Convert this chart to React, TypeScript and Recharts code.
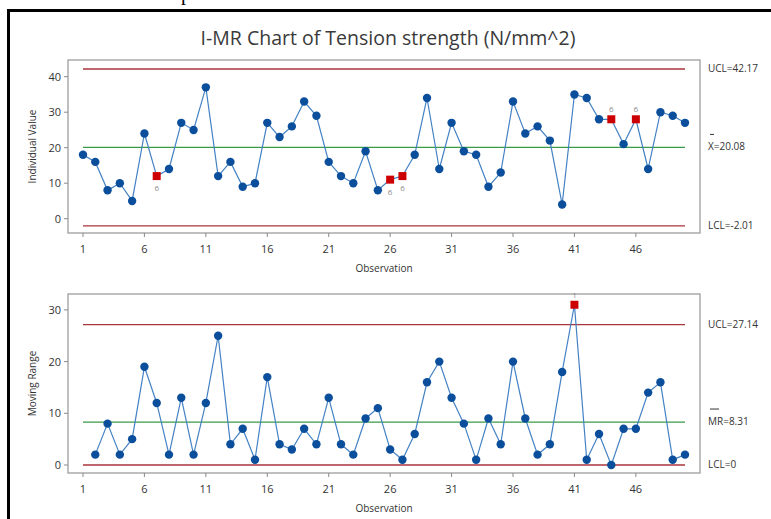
import React from 'react';
import { LineChart, Line, XAxis, YAxis, ReferenceLine, ReferenceArea } from 'recharts';

const observations = [
  1, 2, 3, 4, 5, 6, 7, 8, 9, 10, 11, 12, 13, 14, 15, 16, 17, 18, 19, 20, 21, 22, 23, 24, 25,
  26, 27, 28, 29, 30, 31, 32, 33, 34, 35, 36, 37, 38, 39, 40, 41, 42, 43, 44, 45, 46, 47, 48, 49, 50,
];
const individualValues = [
  18, 16, 8, 10, 5, 24, 12, 14, 27, 25, 37, 12, 16, 9, 10, 27, 23, 26, 33, 29, 16, 12, 10, 19, 8,
  11, 12, 18, 34, 14, 27, 19, 18, 9, 13, 33, 24, 26, 22, 4, 35, 34, 28, 28, 21, 28, 14, 30, 29, 27,
];
const movingRanges = [
  null, 2, 8, 2, 5, 19, 12, 2, 13, 2, 12, 25, 4, 7, 1, 17, 4, 3, 7, 4, 13, 4, 2, 9, 11,
  3, 1, 6, 16, 20, 13, 8, 1, 9, 4, 20, 9, 2, 4, 18, 31, 1, 6, 0, 7, 7, 14, 16, 1, 2,
];
const xTicks = [1, 6, 11, 16, 21, 26, 31, 36, 41, 46];
const iTicks = [0, 10, 20, 30, 40];
const mrTicks = [0, 10, 20, 30];
const iLimits = [42.17, 20.08, -2.01];
const iLimitNames = ['UCL', 'X', 'LCL'];
const mrLimits = [27.14, 8.31, 0];
const mrLimitNames = ['UCL', 'MR', 'LCL'];
const iFlagObs = [7, 26, 27, 44, 46];
const iFlagTests = ['6', '6', '6', '6', '6'];
const mrFlagObs = [41];
const mrFlagTests = ['1'];

const X_DOMAIN: [number, number] = [-0.22, 51.22];
const I_DOMAIN: [number, number] = [-4.03, 44.7];
const MR_DOMAIN: [number, number] = [-1.55, 33.08];

const FONT = '"Open Sans", "Noto Sans", sans-serif';
const TEXT = '#333333';
const FRAME = '#ababab';
const LIMIT_RED = '#a8353b';
const CENTER_GREEN = '#3a9a4a';
const LINE_BLUE = '#4482c4';
const DOT_BLUE = '#0b4f9c';
const FLAG_RED = '#cc0000';

const iData = observations.map((obs, i) => ({ obs, value: individualValues[i] }));
const mrData = observations.map((obs, i) => ({ obs, value: movingRanges[i] }));

// square red markers for points that fail a test, with the test number beside them
const makeDot = (flagObs: number[], flagTests: string[], center: number) => (props: any) => {
  const { cx, cy, payload, index } = props;
  if (cx == null || cy == null || payload.value == null) return <g key={index} />;
  const f = flagObs.indexOf(payload.obs);
  if (f >= 0) {
    const above = payload.value > center;
    return (
      <g key={index}>
        <rect x={cx - 4} y={cy - 4} width={8} height={8} fill={FLAG_RED} />
        <text x={cx} y={above ? cy - 7 : cy + 15} textAnchor="middle" fontSize={8} fontFamily={FONT} fill="#8c8c8c">
          {flagTests[f]}
        </text>
      </g>
    );
  }
  return <circle key={index} cx={cx} cy={cy} r={4.2} fill={DOT_BLUE} />;
};

const limitTick = (limits: number[], names: string[]) => (props: any) => {
  const { x, y, payload } = props;
  const i = limits.findIndex((v) => Math.abs(v - payload.value) < 1e-6);
  if (i < 0) return <g />;
  const isCenter = i === 1;
  const barW = names[i].length > 1 ? 9 : 4;
  return (
    <g>
      {isCenter && (
        <line x1={x + 2} x2={x + 2 + barW} y1={y - 13} y2={y - 13} stroke={TEXT} strokeWidth={1} />
      )}
      <text x={x} y={y + 3} fontSize={10} fontFamily={FONT} fill={TEXT}>
        {`${names[i]}=${limits[i]}`}
      </text>
    </g>
  );
};

const tickStyle = { fill: TEXT, fontSize: 11, fontFamily: FONT };

interface PanelProps {
  data: { obs: number; value: number | null }[];
  height: number;
  top: number;
  bottom: number;
  yDomain: [number, number];
  yTicks: number[];
  limits: number[];
  limitNames: string[];
  flagObs: number[];
  flagTests: string[];
  yLabel: string;
}

const Panel: React.FC<PanelProps> = ({ data, height, top, bottom, yDomain, yTicks, limits, limitNames, flagObs, flagTests, yLabel }) => {
  const lineColors = [LIMIT_RED, CENTER_GREEN, LIMIT_RED];
  return (
    <LineChart width={771} height={height} data={data} margin={{ top, right: 0, left: 28, bottom }}>
      <XAxis
        dataKey="obs"
        type="number"
        domain={X_DOMAIN}
        ticks={xTicks}
        interval={0}
        axisLine={false}
        tickLine={{ stroke: '#8a8a8a' }}
        tickSize={4}
        tickMargin={8}
        tick={tickStyle}
        height={40}
        label={{ value: 'Observation', position: 'insideBottom', offset: 1, fill: TEXT, fontSize: 10, fontFamily: FONT }}
      />
      <YAxis
        yAxisId="left"
        type="number"
        domain={yDomain}
        ticks={yTicks}
        interval={0}
        axisLine={false}
        tickLine={{ stroke: '#8a8a8a' }}
        tickSize={4}
        tickMargin={3}
        tick={tickStyle}
        width={40}
        label={{ value: yLabel, angle: -90, position: 'insideLeft', offset: 4, fill: TEXT, fontSize: 10, fontFamily: FONT, style: { textAnchor: 'middle' } }}
      />
      <YAxis
        yAxisId="right"
        orientation="right"
        type="number"
        domain={yDomain}
        ticks={limits}
        interval={0}
        allowDataOverflow
        axisLine={false}
        tickLine={false}
        tickSize={0}
        tickMargin={8}
        tick={limitTick(limits, limitNames)}
        width={71}
      />
      <ReferenceArea
        yAxisId="left"
        x1={X_DOMAIN[0]}
        x2={X_DOMAIN[1]}
        y1={yDomain[0]}
        y2={yDomain[1]}
        fill="none"
        stroke={FRAME}
        strokeWidth={1.5}
        ifOverflow="visible"
      />
      {limits.map((v, i) => (
        <ReferenceLine
          key={i}
          yAxisId="left"
          segment={[{ x: observations[0], y: v }, { x: observations[observations.length - 1], y: v }]}
          stroke={lineColors[i]}
          strokeWidth={1.3}
          ifOverflow="visible"
        />
      ))}
      <Line
        yAxisId="left"
        dataKey="value"
        stroke={LINE_BLUE}
        strokeWidth={1.2}
        dot={makeDot(flagObs, flagTests, limits[1])}
        activeDot={false}
        isAnimationActive={false}
      />
    </LineChart>
  );
};

const App: React.FC = () => {
  return (
    <div style={{ position: 'absolute', left: 0, top: 0, width: 771, height: 519, background: '#fff', overflow: 'hidden' }}>
      <div style={{ position: 'absolute', left: 181, top: -17, fontFamily: '"Liberation Serif", serif', fontSize: 20, lineHeight: '20px' }}>p</div>
      <div style={{ position: 'absolute', left: 7, top: 9, width: 771, height: 519, borderTop: '3px solid #000', borderLeft: '3px solid #000' }} />
      <div
        style={{
          position: 'absolute',
          left: 0,
          width: 776,
          top: 24,
          textAlign: 'center',
          fontFamily: FONT,
          fontSize: 19.5,
          color: '#3a3a3a',
          lineHeight: '28px',
        }}
      >
        I-MR Chart of Tension strength (N/mm^2)
      </div>
      <div style={{ position: 'absolute', left: 0, top: 0 }}>
        <Panel
          data={iData}
          height={280}
          top={60}
          bottom={7}
          yDomain={I_DOMAIN}
          yTicks={iTicks}
          limits={iLimits}
          limitNames={iLimitNames}
          flagObs={iFlagObs}
          flagTests={iFlagTests}
          yLabel="Individual Value"
        />
      </div>
      <div style={{ position: 'absolute', left: 0, top: 280 }}>
        <Panel
          data={mrData}
          height={239}
          top={14}
          bottom={6}
          yDomain={MR_DOMAIN}
          yTicks={mrTicks}
          limits={mrLimits}
          limitNames={mrLimitNames}
          flagObs={mrFlagObs}
          flagTests={mrFlagTests}
          yLabel="Moving Range"
        />
      </div>
    </div>
  );
};

export default App;
